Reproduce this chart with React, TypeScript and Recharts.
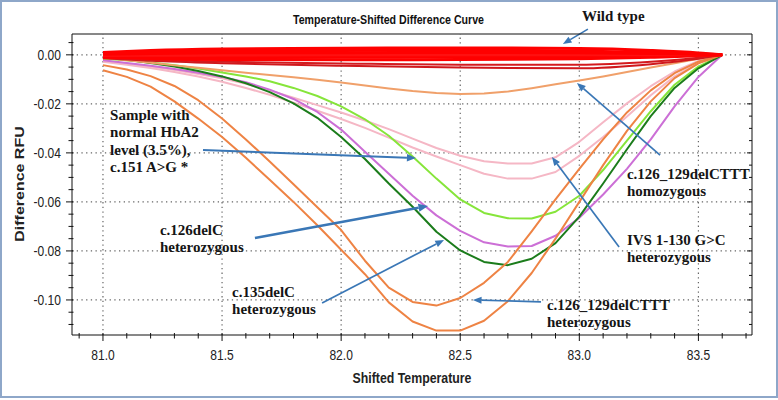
import React from 'react';
import { LineChart, Line, XAxis, YAxis, ReferenceLine, ReferenceDot } from 'recharts';

const SANS = "'Liberation Sans', Arial, sans-serif";
const SERIF = "'Liberation Serif', 'Times New Roman', serif";

// Shifted temperature grid of the difference curves
const temps = [81.0, 81.1, 81.2, 81.3, 81.4, 81.5, 81.6, 81.7, 81.8, 81.9, 82.0, 82.1, 82.2, 82.3, 82.4, 82.5, 82.6, 82.7, 82.8, 82.9, 83.0, 83.1, 83.2, 83.3, 83.4, 83.5, 83.6];

const pinkIVS = [-0.0025, -0.0036, -0.0048, -0.0062, -0.0078, -0.0096, -0.0118, -0.0145, -0.0175, -0.0205, -0.0235, -0.0268, -0.0303, -0.0342, -0.0380, -0.0412, -0.0434, -0.0443, -0.0443, -0.0418, -0.0355, -0.0275, -0.0198, -0.0128, -0.0068, -0.0025, 0];
const pinkOther = [-0.0028, -0.0040, -0.0054, -0.0070, -0.0088, -0.0110, -0.0135, -0.0163, -0.0195, -0.0228, -0.0262, -0.0298, -0.0338, -0.0378, -0.0415, -0.0450, -0.0485, -0.0505, -0.0505, -0.0478, -0.0412, -0.0335, -0.0252, -0.0165, -0.0088, -0.0032, 0];
const violet126delC = [-0.0022, -0.0033, -0.0045, -0.0058, -0.0073, -0.0090, -0.0112, -0.0142, -0.0180, -0.0233, -0.0305, -0.0395, -0.0485, -0.0575, -0.0655, -0.0718, -0.0765, -0.0782, -0.0780, -0.0738, -0.0665, -0.0570, -0.0465, -0.0345, -0.0210, -0.0090, 0];
const limeNormalHbA2 = [-0.0015, -0.0022, -0.0031, -0.0042, -0.0056, -0.0072, -0.0088, -0.0108, -0.0135, -0.0168, -0.0210, -0.0263, -0.0330, -0.0415, -0.0505, -0.0590, -0.0645, -0.0667, -0.0668, -0.0640, -0.0575, -0.0470, -0.0350, -0.0230, -0.0122, -0.0048, 0];
const green135delC = [-0.0010, -0.0020, -0.0033, -0.0048, -0.0066, -0.0088, -0.0116, -0.0152, -0.0198, -0.0257, -0.0335, -0.0425, -0.0525, -0.0620, -0.0722, -0.0798, -0.0845, -0.0858, -0.0832, -0.0768, -0.0660, -0.0525, -0.0385, -0.0250, -0.0135, -0.0055, 0];
const orangeHet = [-0.0042, -0.0060, -0.0087, -0.0127, -0.0185, -0.0260, -0.0345, -0.0435, -0.0528, -0.0622, -0.0715, -0.0840, -0.0950, -0.1008, -0.1023, -0.0992, -0.0930, -0.0845, -0.0720, -0.0590, -0.0465, -0.0345, -0.0235, -0.0145, -0.0075, -0.0028, 0];
const orangeDeep = [-0.0063, -0.0090, -0.0130, -0.0190, -0.0260, -0.0335, -0.0420, -0.0510, -0.0600, -0.0695, -0.0795, -0.0895, -0.1010, -0.1088, -0.1125, -0.1125, -0.1085, -0.1005, -0.0890, -0.0750, -0.0600, -0.0450, -0.0310, -0.0190, -0.0095, -0.0035, 0];
const orangeHomo = [-0.0012, -0.0022, -0.0032, -0.0043, -0.0053, -0.0063, -0.0073, -0.0082, -0.0091, -0.0102, -0.0113, -0.0125, -0.0137, -0.0148, -0.0156, -0.0160, -0.0158, -0.0150, -0.0136, -0.0120, -0.0105, -0.0088, -0.0070, -0.0052, -0.0034, -0.0016, 0];

// Wild type samples (thick red band near zero)
const wtTemps = [81.0, 81.2, 81.5, 82.0, 82.5, 83.0, 83.3, 83.5, 83.6];
const wt1 = [0.0010, 0.0018, 0.0024, 0.0027, 0.0028, 0.0026, 0.0018, 0.0008, 0];
const wt2 = [0.0006, 0.0012, 0.0016, 0.0018, 0.0019, 0.0016, 0.0010, 0.0004, 0];
const wt3 = [0.0002, 0.0005, 0.0008, 0.0009, 0.0010, 0.0008, 0.0005, 0.0002, 0];
const wt4 = [-0.0002, -0.0002, -0.0001, 0.0, 0.0, 0.0, 0.0, 0.0, 0];
const wt5 = [-0.0006, -0.0009, -0.0011, -0.0010, -0.0009, -0.0008, -0.0005, -0.0002, 0];
const wt6 = [-0.0010, -0.0015, -0.0019, -0.0020, -0.0019, -0.0016, -0.0010, -0.0004, 0];
const wt7 = [-0.0012, -0.0020, -0.0028, -0.0035, -0.0040, -0.0040, -0.0028, -0.0012, 0];
const wt8 = [-0.0014, -0.0024, -0.0034, -0.0045, -0.0052, -0.0055, -0.0038, -0.0016, 0];

// Axis ticks
const xTicks = [80.9, 81.0, 81.1, 81.2, 81.3, 81.4, 81.5, 81.6, 81.7, 81.8, 81.9, 82.0, 82.1, 82.2, 82.3, 82.4, 82.5, 82.6, 82.7, 82.8, 82.9, 83.0, 83.1, 83.2, 83.3, 83.4, 83.5, 83.6, 83.7];
const xMajor = [81.0, 81.5, 82.0, 82.5, 83.0, 83.5];
const yTicks = [0.005, 0, -0.005, -0.01, -0.015, -0.02, -0.025, -0.03, -0.035, -0.04, -0.045, -0.05, -0.055, -0.06, -0.065, -0.07, -0.075, -0.08, -0.085, -0.09, -0.095, -0.1, -0.105, -0.11];
const yMajor = [0, -0.02, -0.04, -0.06, -0.08, -0.1];

// Annotations (data coordinates)
const annotTexts = [
  { lines: ['Wild type'], t: 83.011, v: 0.0136 },
  { lines: ['Sample with', 'normal HbA2', 'level (3.5%),', 'c.151 A>G *'], t: 81.030, v: -0.0266 },
  { lines: ['c.126delC', 'heterozygous'], t: 81.239, v: -0.0735 },
  { lines: ['c.135delC', 'heterozygous'], t: 81.542, v: -0.0988 },
  { lines: ['c.126_129delCTTT', 'homozygous'], t: 83.200, v: -0.0505 },
  { lines: ['IVS 1-130 G>C', 'heterozygous'], t: 83.200, v: -0.0776 },
  { lines: ['c.126_129delCTTT', 'heterozygous'], t: 82.864, v: -0.1041 },
];
const annotArrows = [
  { from: [83.036, 0.0105], to: [82.931, 0.0044], w: 1.6 },
  { from: [81.420, -0.0388], to: [82.314, -0.0421], w: 2 },
  { from: [81.638, -0.0747], to: [82.365, -0.0617], w: 2.6 },
  { from: [81.920, -0.1012], to: [82.432, -0.0755], w: 1.7 },
  { from: [83.339, -0.0409], to: [82.990, -0.0115], w: 1.7 },
  { from: [83.167, -0.0784], to: [82.885, -0.0417], w: 1.7 },
  { from: [82.839, -0.1008], to: [82.553, -0.1000], w: 1.7 },
];

const curveSeries = [
  { key: 'pinkOther', values: pinkOther, color: '#f5b7c5', width: 2 },
  { key: 'pinkIVS', values: pinkIVS, color: '#f5b7c5', width: 2 },
  { key: 'violet126delC', values: violet126delC, color: '#cc6fd6', width: 2 },
  { key: 'limeNormalHbA2', values: limeNormalHbA2, color: '#86e53a', width: 2 },
  { key: 'green135delC', values: green135delC, color: '#1b7c1b', width: 2 },
  { key: 'orangeHomo', values: orangeHomo, color: '#f0a06a', width: 2 },
  { key: 'orangeHet', values: orangeHet, color: '#ee8344', width: 2 },
  { key: 'orangeDeep', values: orangeDeep, color: '#ee8344', width: 2 },
];
const wildSeries = [
  { key: 'wt8', values: wt8, color: '#d0181c', width: 2 },
  { key: 'wt7', values: wt7, color: '#d41a1e', width: 2 },
  { key: 'wt6', values: wt6, color: '#ff0000', width: 3 },
  { key: 'wt5', values: wt5, color: '#ff0000', width: 3 },
  { key: 'wt4', values: wt4, color: '#ff1010', width: 3 },
  { key: 'wt3', values: wt3, color: '#ff0000', width: 3 },
  { key: 'wt2', values: wt2, color: '#ff0000', width: 3 },
  { key: 'wt1', values: wt1, color: '#ff0000', width: 3 },
];

const table = temps.map((t, i) => {
  const row: Record<string, number> = { t };
  curveSeries.forEach((s) => { row[s.key] = s.values[i]; });
  return row;
});
const wildData = wildSeries.map((s) => wtTemps.map((t, i) => ({ t, v: s.values[i] })));

const near = (v: number, list: number[]) => list.some((m) => Math.abs(m - v) < 1e-6);
const fmtY = (v: number) => (Math.abs(v) < 1e-9 ? '0.00' : v.toFixed(2));

const BottomTick = (p: any) => {
  const v = p.payload.value;
  const major = near(v, xMajor);
  return (
    <g>
      <line x1={p.x} x2={p.x} y1={p.y - 2} y2={p.y + (major ? 6 : 3.5)} stroke="#111" strokeWidth={1} />
      {major && (
        <text transform={`translate(${p.x},${p.y + 25}) scale(0.86,1)`} textAnchor="middle" fontSize={14} fontFamily={SANS} fill="#222">
          {v.toFixed(1)}
        </text>
      )}
    </g>
  );
};
const TopTick = (p: any) => {
  const major = near(p.payload.value, xMajor);
  return <line x1={p.x} x2={p.x} y1={p.y} y2={p.y + (major ? 5 : 3)} stroke="#111" strokeWidth={1} />;
};
const LeftTick = (p: any) => {
  const v = p.payload.value;
  const major = near(v, yMajor);
  return (
    <g>
      <line x1={p.x - (major ? 6 : 3.5)} x2={p.x + 1.5} y1={p.y} y2={p.y} stroke="#111" strokeWidth={1} />
      {major && (
        <text transform={`translate(${p.x - 11},${p.y + 5}) scale(0.86,1)`} textAnchor="end" fontSize={14} fontFamily={SANS} fill="#222">
          {fmtY(v)}
        </text>
      )}
    </g>
  );
};
const RightTick = (p: any) => {
  const major = near(p.payload.value, yMajor);
  return <line x1={p.x - (major ? 5 : 3)} x2={p.x} y1={p.y} y2={p.y} stroke="#111" strokeWidth={1} />;
};

const makeArrow = (w: number) => (p: any) => {
  const { x1, y1, x2, y2 } = p;
  const ang = Math.atan2(y2 - y1, x2 - x1);
  const hl = 7 + w;
  const hw = 2.5 + w * 0.6;
  const bx = x2 - hl * Math.cos(ang);
  const by = y2 - hl * Math.sin(ang);
  const px = -Math.sin(ang) * hw;
  const py = Math.cos(ang) * hw;
  return (
    <g>
      <line x1={x1} y1={y1} x2={bx} y2={by} stroke="#3a77b6" strokeWidth={w} />
      <polygon points={`${x2},${y2} ${bx + px},${by + py} ${bx - px},${by - py}`} fill="#3a77b6" />
    </g>
  );
};

const makeText = (lines: string[]) => (p: any) => (
  <text x={p.cx} y={p.cy} fontFamily={SERIF} fontWeight="bold" fontSize={15} fill="#151515">
    {lines.map((l, i) => (
      <tspan key={i} x={p.cx} dy={i === 0 ? 0 : 17.3}>{l}</tspan>
    ))}
  </text>
);

const X_DOMAIN: [number, number] = [80.87, 83.725];
const Y_DOMAIN: [number, number] = [-0.1143, 0.0085];

export default function App() {
  return (
    <div style={{ position: 'absolute', left: 0, top: 0, width: 778, height: 400, background: '#fff' }}>
      <LineChart width={778} height={400} data={table} margin={{ top: 33, right: 25, bottom: 64, left: 71 }}>
        <XAxis dataKey="t" type="number" domain={X_DOMAIN} allowDataOverflow ticks={xTicks} interval={0} height={1}
          tickSize={0} tickMargin={0} tickLine={false} axisLine={{ stroke: '#111' }} tick={BottomTick} />
        <XAxis xAxisId="top" orientation="top" type="number" domain={X_DOMAIN} allowDataOverflow ticks={xTicks} interval={0} height={1}
          tickSize={0} tickMargin={0} tickLine={false} axisLine={{ stroke: '#111' }} tick={TopTick} />
        <YAxis type="number" domain={Y_DOMAIN} allowDataOverflow ticks={yTicks} interval={0} width={1}
          tickSize={0} tickMargin={0} tickLine={false} axisLine={{ stroke: '#111' }} tick={LeftTick} />
        <YAxis yAxisId="right" orientation="right" type="number" domain={Y_DOMAIN} allowDataOverflow ticks={yTicks} interval={0} width={1}
          tickSize={0} tickMargin={0} tickLine={false} axisLine={{ stroke: '#111' }} tick={RightTick} />
        {xMajor.map((x) => (
          <ReferenceLine key={`gx${x}`} x={x} stroke="#666" strokeWidth={1.2} strokeDasharray="1.3 3.4" />
        ))}
        {yMajor.map((y) => (
          <ReferenceLine key={`gy${y}`} y={y} stroke="#666" strokeWidth={1.2} strokeDasharray="1.3 3.4" />
        ))}
        {curveSeries.map((s) => (
          <Line key={s.key} dataKey={s.key} type="linear" stroke={s.color} strokeWidth={s.width} dot={false}
            activeDot={false} isAnimationActive={false} strokeLinejoin="round" />
        ))}
        {wildSeries.map((s, i) => (
          <Line key={s.key} data={wildData[i]} dataKey="v" type="monotone" stroke={s.color} strokeWidth={s.width} dot={false}
            activeDot={false} isAnimationActive={false} />
        ))}
        {annotArrows.map((a, i) => (
          <ReferenceLine key={`ar${i}`} ifOverflow="visible"
            segment={[{ x: a.from[0], y: a.from[1] }, { x: a.to[0], y: a.to[1] }]} shape={makeArrow(a.w)} />
        ))}
        {annotTexts.map((a, i) => (
          <ReferenceDot key={`tx${i}`} x={a.t} y={a.v} r={1} ifOverflow="visible" shape={makeText(a.lines)} />
        ))}
      </LineChart>
      <svg width={778} height={400} style={{ position: 'absolute', left: 0, top: 0, pointerEvents: 'none' }}>
        <rect x={1} y={1} width={776} height={396} fill="none" stroke="#8ea7c9" strokeWidth={2} />
        <text transform="translate(388.5,24) scale(0.85,1)" textAnchor="middle" fontFamily={SANS} fontWeight="bold" fontSize={12.5} fill="#111">
          Temperature-Shifted Difference Curve
        </text>
        <text transform="translate(412,383) scale(0.85,1)" textAnchor="middle" fontFamily={SANS} fontWeight="bold" fontSize={14.5} fill="#222">
          Shifted Temperature
        </text>
        <text transform="translate(23.5,184) scale(0.85,1) rotate(-90)" textAnchor="middle" fontFamily={SANS} fontWeight="bold" fontSize={16} fill="#222">
          Difference RFU
        </text>
      </svg>
    </div>
  );
}
